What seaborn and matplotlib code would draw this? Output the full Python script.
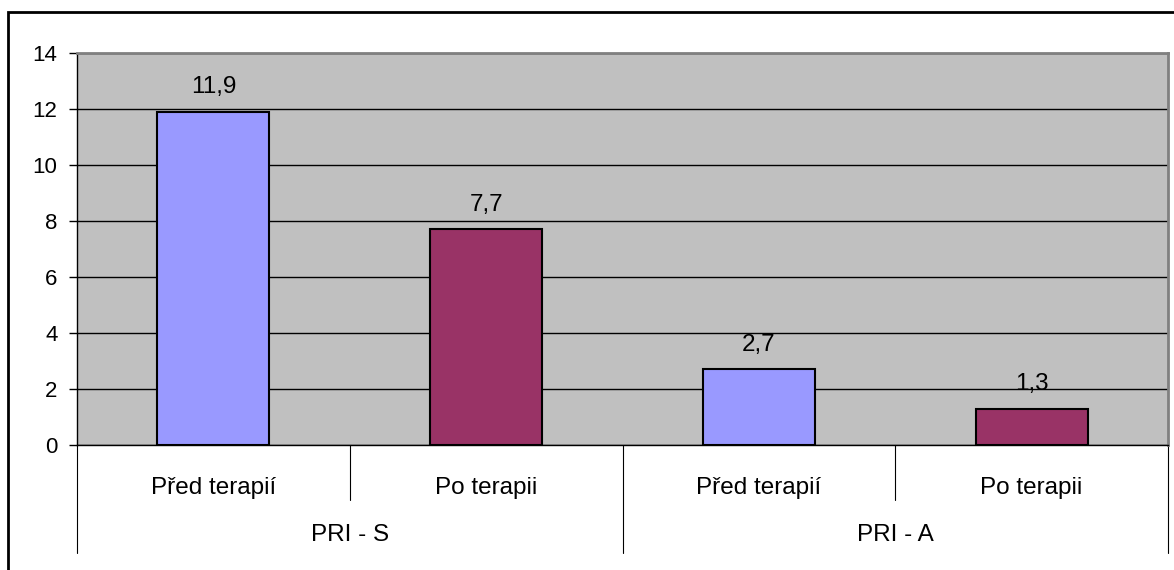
import seaborn as sns
import numpy as np
from matplotlib import pyplot as plt
from matplotlib import patches
import pandas as pd

skala = ['PRI - S', 'PRI - S', 'PRI - A', 'PRI - A']
stav = ['Před terapií', 'Po terapii', 'Před terapií', 'Po terapii']
hodnoty = [11.9, 7.7, 2.7, 1.3]
skupiny = ['PRI - S', 'PRI - A']

colors = {'Před terapií': '#9999ff', 'Po terapii': '#993366'}

sns.set_theme(style="white")
plt.rcParams['font.family'] = ['Liberation Sans', 'DejaVu Sans']
plt.rcParams['text.color'] = 'black'
plt.rcParams['ytick.color'] = 'black'

df = pd.DataFrame({'skala': skala, 'stav': stav, 'hodnota': hodnoty})
df['klic'] = df.skala + ' | ' + df.stav

fig = plt.figure(figsize=(11.74, 5.70), dpi=100)
ax = fig.add_axes([77 / 1174, 1 - 445 / 570, 1091 / 1174, 392 / 570])
ax.set_facecolor('#c0c0c0')

sns.barplot(data=df, x='klic', y='hodnota', hue='stav', palette=colors,
            dodge=False, width=0.41, edgecolor='black', linewidth=1.5,
            saturation=1, legend=False, ax=ax, zorder=3)

fs = 17.5
for c in ax.containers:
    labels = [f'{v.get_height():.1f}'.replace('.', ',') for v in c]
    ax.bar_label(c, labels=labels, padding=10, fontsize=fs, color='black')

ax.set_ylim(0, 14)
ax.set_xlim(-0.5, 3.5)
ax.set_yticks(np.arange(0, 15, 2))
ax.yaxis.grid(True, color='black', linewidth=1)
ax.set_axisbelow(True)
ax.tick_params(axis='y', left=True, length=6, width=1, color='black',
               labelcolor='black', labelsize=16, pad=8)
ax.set_xticks([])
ax.set(xlabel='', ylabel='')

for s in ['left', 'bottom']:
    ax.spines[s].set_color('black')
    ax.spines[s].set_linewidth(1)
for s in ['top', 'right']:
    ax.spines[s].set_color('#808080')
    ax.spines[s].set_linewidth(2)

# dvouúrovňová osa x
trans = ax.get_xaxis_transform()
for i, s in enumerate(stav):
    ax.text(i, -0.11, s, transform=trans, ha='center', va='center', fontsize=fs)
for i, g in enumerate(skupiny):
    ax.text(2 * i + 0.5, -0.23, g, transform=trans, ha='center', va='center', fontsize=fs)
for x in [0.5, 2.5]:
    ax.plot([x, x], [0, -0.14], transform=trans, color='black', linewidth=0.8, clip_on=False)
for x in [-0.5, 1.5, 3.5]:
    ax.plot([x, x], [0, -0.275], transform=trans, color='black', linewidth=0.8, clip_on=False)

fig.patches.append(patches.Rectangle((8 / 1174, -0.1), 1.2, 1 - 12 / 570 + 0.1,
                                     transform=fig.transFigure, fill=False,
                                     edgecolor='black', linewidth=2))

fig.savefig('out.png', dpi=100)
